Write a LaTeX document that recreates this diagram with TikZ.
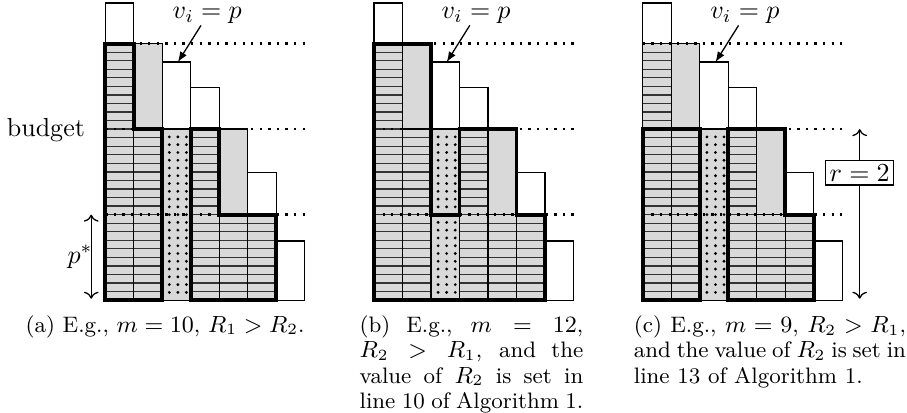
\documentclass[tikz,border=0pt]{standalone}
\usetikzlibrary{arrows.meta}
\tikzset{
  cell/.style={draw=black, line width=0.5pt},
  stripe/.style={black!80, line width=0.5pt},
  level/.style={line width=0.9pt, dash pattern=on 0.9pt off 2.4pt},
  region/.style={draw=black, line width=1.5pt},
  pointer/.style={-{Latex[length=4pt,width=3pt]}, line width=0.5pt},
  span/.style={<->, line width=0.5pt},
  capfont/.style={font=\fontsize{8.6}{9.7}\selectfont},
  subcap/.style={capfont, inner sep=0pt, text width=#1, align=justify,
    execute at begin node={\hyphenpenalty=10000\tolerance=10000\relax}}
}
\begin{document}
\begin{tikzpicture}[x=10.96pt, y=10.96pt]
\useasboundingbox (0,-3.93) rectangle (31.82,10.53);

\foreach \px in {3.69,13.12,22.55} {
\begin{scope}[shift={(\px,0)}]
\foreach \x/\ya/\yb in {0/0/9, 1/0/9, 2/0/6, 3/0/6, 4/0/6, 5/0/3}
  \fill[black!15] (\x,\ya) rectangle (\x+1,\yb);
\foreach \x/\ya/\yb in {0/0/9, 1/0/6, 3/0/6, 4/0/3, 5/0/3} {
  \begin{scope}
  \clip (\x,\ya) rectangle (\x+1,\yb);
  \foreach \k in {1,...,29}
    \draw[stripe] (\x,0.3*\k) -- (\x+1,0.3*\k);
  \end{scope}
}
\foreach \i in {0.25,0.55,0.85}
  \foreach \k in {1,...,21}
    \fill (2+\i,\k*3/11) circle (0.6pt);
\foreach \x/\ya/\yb in {0/0/9, 0/9/10.43, 1/0/6, 1/6/9, 2/0/6, 2/6/8.35, 3/0/6,
    3/6/7.45, 4/0/3, 4/3/6, 5/0/3, 5/3/4.47, 6/0/2.08}
  \draw[cell] (\x,\ya) rectangle (\x+1,\yb);
\foreach \y in {3,6,9}
  \draw[level] (0,\y) -- (7,\y);
\end{scope}
}

\node[anchor=base] (budget) at (1.61,5.75) {budget};

\begin{scope}[shift={(3.69,0)}]
\draw[region] (0,0) -- (0,9) -- (1,9) -- (1,6) -- (2,6) -- (2,0) -- cycle;
\draw[region] (3,0) -- (3,6) -- (4,6) -- (4,3) -- (6,3) -- (6,0) -- cycle;
\node[anchor=base, inner sep=0.5pt] (via) at (3.58,9.88) {$v_i = p$};
\coordinate (topa) at (2.55,8.35);
\draw[pointer] (via) -- (topa);
\coordinate (pa0) at (-0.49,0.05);
\coordinate (pa1) at (-0.49,3);
\draw[span] (pa0) -- node[anchor=east, inner sep=0pt, xshift=0.8pt] (pstar) {$p^*$} (pa1);
\end{scope}

\begin{scope}[shift={(13.12,0)}]
\draw[region] (0,0) -- (0,9) -- (2,9) -- (2,3) -- (3,3) -- (3,6) -- (5,6) -- (5,3)
  -- (6,3) -- (6,0) -- cycle;
\node[anchor=base, inner sep=0.5pt] (vib) at (3.58,9.88) {$v_i = p$};
\coordinate (topb) at (2.55,8.35);
\draw[pointer] (vib) -- (topb);
\end{scope}

\begin{scope}[shift={(22.55,0)}]
\draw[region] (0,0) rectangle (2,6);
\draw[region] (3,0) -- (3,6) -- (5,6) -- (5,3) -- (6,3) -- (6,0) -- cycle;
\node[anchor=base, inner sep=0.5pt] (vic) at (3.58,9.88) {$v_i = p$};
\coordinate (topc) at (2.55,8.35);
\draw[pointer] (vic) -- (topc);
\coordinate (rc0) at (7.61,0.05);
\coordinate (rc1) at (7.61,6);
\draw[span] (rc0) -- (rc1);
\node[draw, fill=white, line width=0.5pt, inner sep=1.5pt] (rlab) at (7.61,4.47) {$r = 2$};
\end{scope}

\node[capfont, anchor=base west, inner sep=0pt] (capa) at (0.88,-1.12)
  {(a) E.g., $m = 10$, $R_1 > R_2$.};
\node[subcap=86pt, anchor=north west] (capb) at (12.6,-0.53)
  {(b) E.g., $m = 12$,\linebreak $R_2 > R_1$, and the\linebreak value of $R_2$ is set in\linebreak line 10 of Algorithm 1.};
\node[subcap=104.6pt, anchor=north west] (capc) at (22.22,-0.53)
  {(c) E.g., $m = 9$, $R_2 > R_1$,\linebreak and the value of $R_2$ is set in\linebreak line 13 of Algorithm 1.};
\end{tikzpicture}
\end{document}
